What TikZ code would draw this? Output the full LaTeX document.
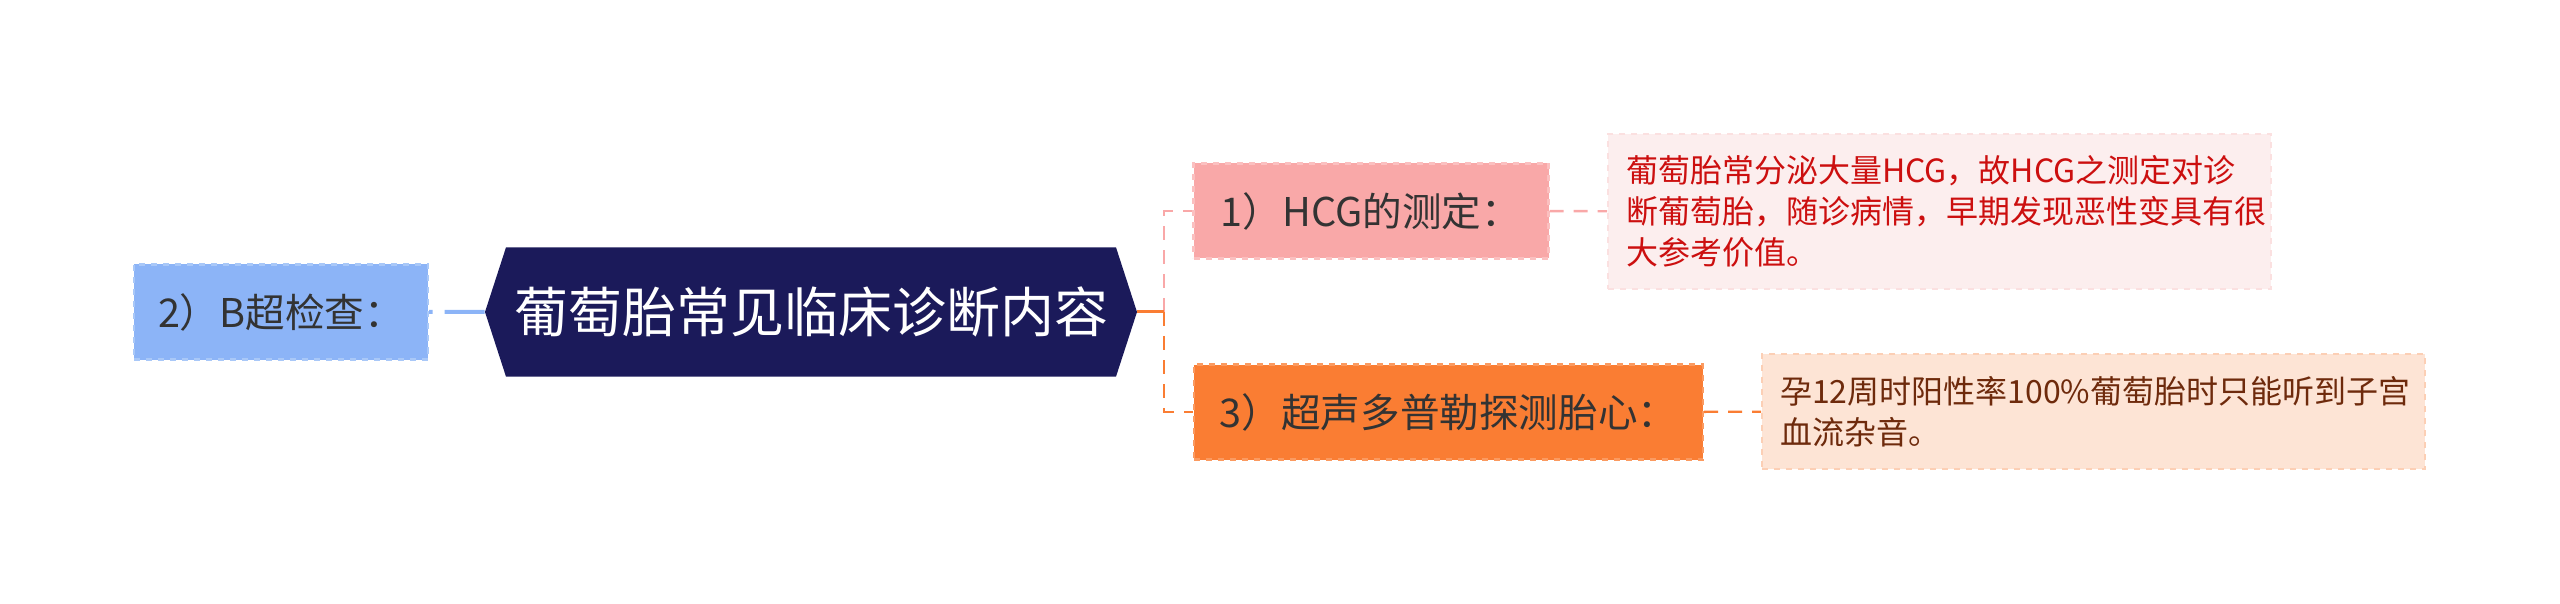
\documentclass[tikz,border=0pt]{standalone}
\usepackage{fontspec}
\setmainfont{Noto Sans CJK SC}
\usetikzlibrary{shapes.symbols}
\definecolor{navy}{HTML}{1B1A5A}
\definecolor{skyfill}{HTML}{8CB4F7}
\definecolor{skyline}{HTML}{A9C8F8}
\definecolor{rosefill}{HTML}{F9A8A8}
\definecolor{roseline}{HTML}{FBC0C0}
\definecolor{ambfill}{HTML}{FA7D33}
\definecolor{ambline}{HTML}{FB9A60}
\definecolor{rosepale}{HTML}{FCEEEE}
\definecolor{ambpale}{HTML}{FDE4D5}
\definecolor{redtext}{HTML}{CC0F0F}
\definecolor{browntext}{HTML}{6E2A0C}
\definecolor{darktext}{HTML}{333333}
\begin{document}
\begin{tikzpicture}[x=0.5pt,y=-0.5pt,
  rootbox/.style={shape=signal,signal to=east and west,signal pointer angle=144,fill=navy,text=white,minimum width=326pt,minimum height=64.5pt,inner sep=0pt,font=\fontsize{27pt}{32pt}\selectfont},
  topicbox/.style={draw,dashed,line width=1.2pt,minimum height=47.5pt,inner sep=0pt,text=darktext,font=\fontsize{19.8pt}{24pt}\selectfont},
  notebox/.style={draw,dashed,line width=1pt,align=left,text width=313.5pt,inner xsep=9pt,inner ysep=0pt,font=\fontsize{16pt}{20.5pt}\selectfont},
  link/.style={line width=1.2pt,dash pattern=on 7pt off 5pt}]
\useasboundingbox (0,0) rectangle (2560,604);
\node (bscan) at (281,312) [topicbox,fill=skyfill,draw=skyline,minimum width=147pt] {2）B超检查：};
\node (root) at (811,312) [rootbox] {葡萄胎常见临床诊断内容};
\node (hcg) at (1371,211) [topicbox,fill=rosefill,draw=roseline,minimum width=177.5pt] {1）HCG的测定：};
\node (doppler) at (1448.5,412) [topicbox,fill=ambfill,draw=ambline,minimum width=254.5pt] {3）超声多普勒探测胎心：};
\node (hcgnote) at (1939.5,211.5) [notebox,fill=rosepale,draw=rosepale!80!rosefill,text=redtext,minimum height=77.5pt] {葡萄胎常分泌大量HCG，故HCG之测定对诊\\断葡萄胎，随诊病情，早期发现恶性变具有很\\大参考价值。};
\node (dopnote) at (2093.5,411.5) [notebox,fill=ambpale,draw=ambpale!80!ambfill,text=browntext,minimum height=57.5pt] {孕12周时阳性率100\%葡萄胎时只能听到子宫\\血流杂音。};
\coordinate (fork) at (1164,312);
\draw [line width=2pt,dash pattern=on 20pt off 6pt,draw=skyfill] (root) -- (bscan);
\draw [link,draw=rosefill] (fork) |- (hcg);
\draw [link,draw=ambfill] (fork) |- (doppler);
\draw [line width=1.5pt,draw=ambfill] (root.east) -- (fork);
\draw [link,draw=rosefill] (hcg) -- (hcgnote);
\draw [link,draw=ambfill] (doppler) -- (dopnote);
\end{tikzpicture}
\end{document}
